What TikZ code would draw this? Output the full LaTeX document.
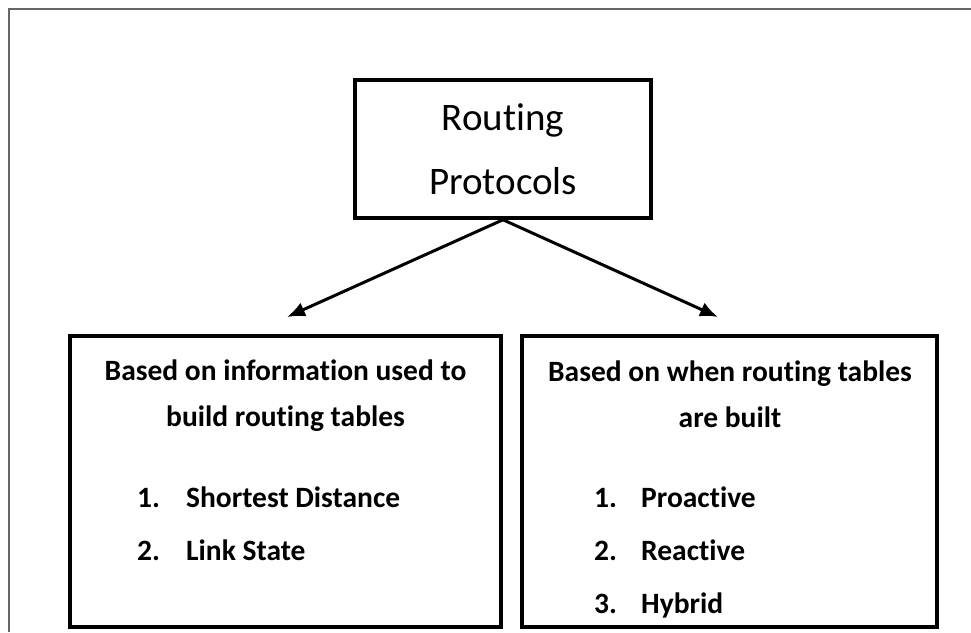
\documentclass[tikz,border=0pt]{standalone}
\usepackage{fontspec}
\setmainfont{Carlito}[Ligatures=NoCommon]
\usepackage{tikz}
\usetikzlibrary{arrows.meta}
\usetikzlibrary{calc}
\definecolor{framecolor}{HTML}{666666}

\begin{document}
\begin{tikzpicture}[x=1pt,y=-1pt,
   topbox/.style={draw=black, line width=3.5pt, minimum width=296pt, minimum height=138pt, align=center, font=\fontsize{39}{64}\selectfont},
   catbox/.style={draw=black, line width=3.5pt, minimum height=291pt},
   head/.style={inner sep=0pt, align=center, font=\fontsize{29.5}{46}\selectfont\bfseries},
   entry/.style={inner sep=0pt, anchor=base west, font=\fontsize{29.5}{36}\selectfont\bfseries},
   branch/.style={line width=3pt, -{Latex[length=18pt,width=15pt]}}]
   \useasboundingbox (0,0) rectangle (971,632);
   %% outer frame, open at right and bottom
   \draw [framecolor, line width=1.5pt] (9,632) -- (9,9) -- (971,9);
   \node [topbox] (routing) at (503,149) {Routing\\Protocols};
   \node [catbox, minimum width=431pt] (info) at (285.5,481.5) {};
   \node [catbox, minimum width=415pt] (when) at (729.5,481.5) {};
   \coordinate (infotip) at (287,317);
   \coordinate (whentip) at (718,317);
   \draw [branch] (routing.south) -- (infotip);
   \draw [branch] (routing.south) -- (whentip);
   %% left box
   \node [head] (infohead) at (285.5,396) {Based on information used to\\build routing tables};
   \node [entry] (infoa) at (137,507) {1.};
   \node [entry] (infoatext) at (186,507) {Shortest Distance};
   \node [entry] (infob) at (137,560) {2.};
   \node [entry] (infobtext) at (186,560) {Link State};
   %% right box
   \node [head] (whenhead) at (730,394) {Based on when routing tables\\are built};
   \node [entry] (whena) at (594,507) {1.};
   \node [entry] (whenatext) at (641,507) {Proactive};
   \node [entry] (whenb) at (594,560) {2.};
   \node [entry] (whenbtext) at (641,560) {Reactive};
   \node [entry] (whenc) at (594,613) {3.};
   \node [entry] (whenctext) at (641,613) {Hybrid};
\end{tikzpicture}
\end{document}
